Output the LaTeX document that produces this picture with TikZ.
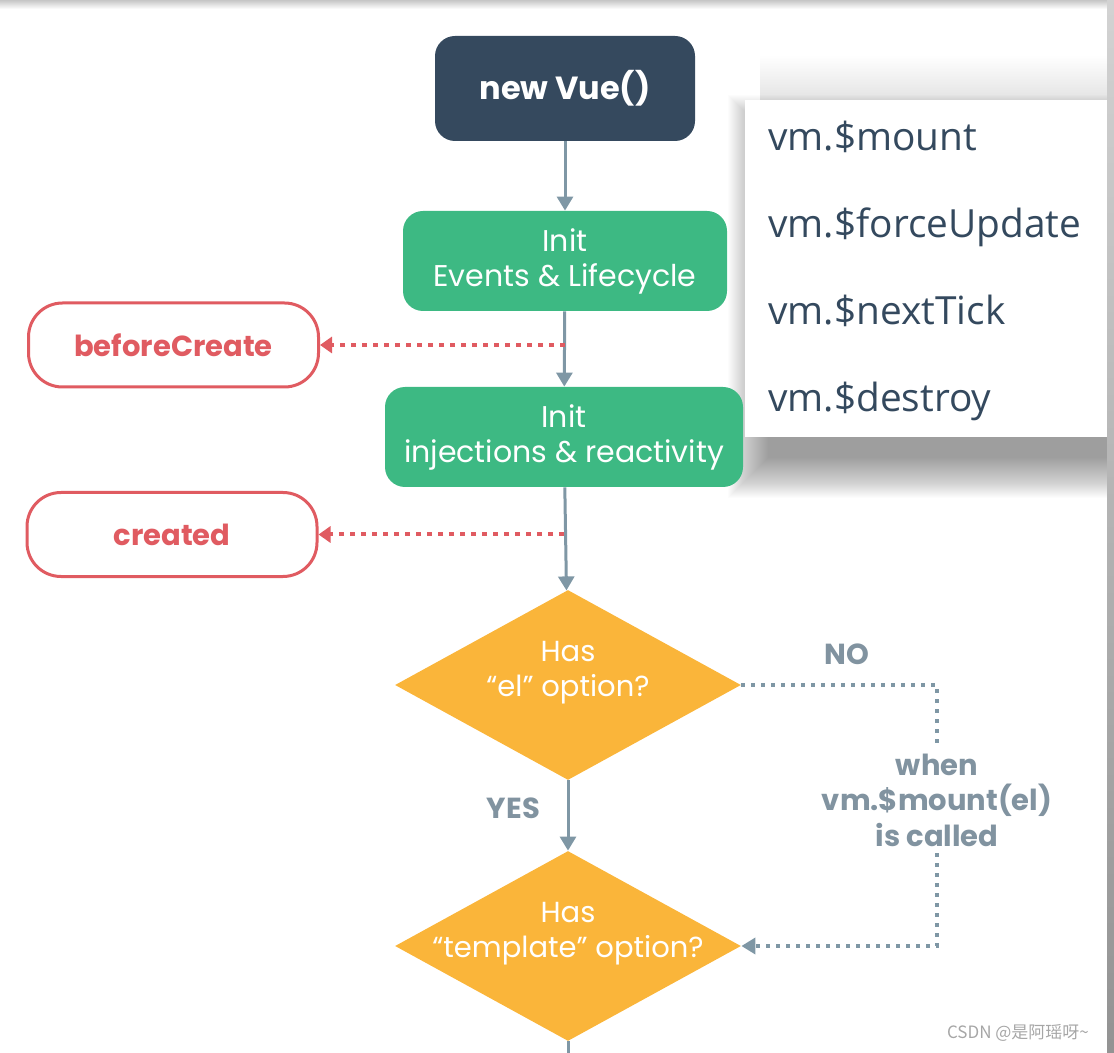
\documentclass[tikz,border=0pt]{standalone}
\usepackage{fontspec}
\setmainfont{Poppins}
\newfontfamily\panelfont{Open Sans}
\newfontfamily\cjkfont{Noto Sans CJK SC}
\usetikzlibrary{shapes.geometric, arrows.meta, positioning, calc}

\definecolor{vuedark}{HTML}{35495E}
\definecolor{vuegreen}{HTML}{3DB983}
\definecolor{vuered}{HTML}{E05B61}
\definecolor{vueyellow}{HTML}{FAB53A}
\definecolor{linegray}{HTML}{7F97A5}
\definecolor{labelgray}{HTML}{8193A0}
\definecolor{paneltext}{HTML}{34495E}

\tikzset{
  box/.style={rounded corners=10pt, inner sep=0pt, align=center, text=white},
  startbox/.style={box, fill=vuedark, minimum width=130pt, minimum height=52.5pt,
    font=\bfseries\fontsize{16}{19}\selectfont},
  initbox/.style={box, fill=vuegreen, minimum height=50pt,
    font=\fontsize{15}{17.5}\selectfont},
  hookbox/.style={draw=vuered, line width=1.5pt, fill=white, rounded corners=17pt,
    minimum width=145pt, minimum height=42pt, text=vuered,
    font=\bfseries\fontsize{14.5}{16}\selectfont},
  decision/.style={diamond, fill=vueyellow, minimum width=173pt, minimum height=95pt, inner sep=0pt},
  decisiontext/.style={align=center, text=white, yshift=6pt, font=\fontsize{14.5}{17.5}\selectfont},
  flow/.style={draw=linegray, line width=1.5pt, -{Triangle[length=7pt,width=8pt]}},
  hookline/.style={draw=vuered, line width=2pt, dash pattern=on 2.5pt off 3pt,
    -{Triangle[length=6pt,width=8pt]}},
  waitline/.style={draw=linegray, line width=2pt, dash pattern=on 2pt off 3pt},
  graylabel/.style={text=labelgray, align=center, font=\bfseries\fontsize{14.5}{17.75}\selectfont},
  methodtext/.style={anchor=base west, text=paneltext, inner sep=0pt, font=\panelfont\fontsize{19.4}{22}\selectfont}
}

\begin{document}
\begin{tikzpicture}[x=0.5pt, y=-0.5pt]
\useasboundingbox (0,0) rectangle (1114,1053);

% screenshot frame
\shade[top color=gray!45, bottom color=white] (0,0) rectangle (1108,9);

% soft shadow of the method list
\shade[top color=white, bottom color=gray!22] (760,55) rectangle (1108,100);
\foreach \s in {0,...,40}
  \fill[black, opacity=0.012] (768-\s,135-\s) rectangle (1108+\s,458+\s);
\node[fill=white, minimum width=181.5pt, minimum height=168.5pt, inner sep=0pt] (methods) at (926.5,268.5) {};
\node[methodtext] (mount) at (768,151) {vm.\$mount};
\node[methodtext] (force) at (768,238) {vm.\$forceUpdate};
\node[methodtext] (tick) at (768,325) {vm.\$nextTick};
\node[methodtext] (destroy) at (768,412) {vm.\$destroy};

% main flow
\node[startbox] (vue) at (565,88.5) {new Vue()};
\node[initbox, minimum width=162pt] (events) at (565,261) {Init\\Events \& Lifecycle};
\node[initbox, minimum width=179pt] (inject) at (564,437) {Init\\injections \& reactivity};
\node[decision, label={[decisiontext]center:Has\\“el” option?}] (el) at (568,685) {};
\node[decision, label={[decisiontext]center:Has\\“template” option?}] (tpl) at (568,946) {};
\coordinate (tail) at (568,1053);

% hooks
\node[hookbox] (before) at (173.5,345) {beforeCreate};
\node[hookbox] (created) at (172,534.5) {created};

\draw[flow] (vue) -- (events);
\draw[flow] (events) -- (inject);
\draw[flow] (inject) -- (el);
\draw[flow] (el) -- node[graylabel, left=10pt, pos=0.4] {YES} (tpl);
\draw[draw=linegray, line width=1.5pt] (tpl.south) -- (tail);

\draw[hookline] (events.south |- before.east) -- (before.east);
\draw[hookline] (inject.south |- created.east) -- (created.east);

% mount later
\node[graylabel] (when) at (937,800) {when\\vm.\$mount(el)\\is called};
\draw[waitline] (el.east) -| node[graylabel, pos=0.27, above=6pt] {NO} (when.north);
\draw[waitline, -{Triangle[length=7pt,width=8pt]}] (when.south) |- (tpl.east);

% screenshot edge and watermark
\shade[top color=gray!35, bottom color=gray!85] (1107,0) rectangle (1114,1053);
\node[text=gray!70, font=\cjkfont\fontsize{8.5}{10}\selectfont] (mark) at (1018,1033) {CSDN @是阿瑶呀\textasciitilde};
\end{tikzpicture}
\end{document}
